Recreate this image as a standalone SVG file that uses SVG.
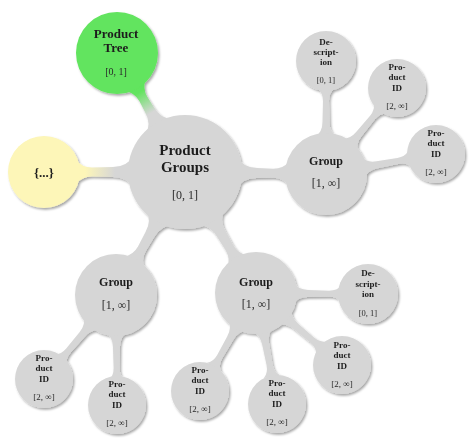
<svg xmlns="http://www.w3.org/2000/svg" width="474" height="444" viewBox="0 0 474 444">
<defs>
<style>
.n{fill:#d6d6d6}
.b{font-family:"Liberation Serif","DejaVu Serif",serif;font-weight:bold;fill:#1e1e1e;text-anchor:middle}
.m{font-family:"Liberation Serif","DejaVu Serif",serif;fill:#2a2a2a;text-anchor:middle}
.c{fill:#d6d6d6}
</style>
<filter id="sh" x="-10%" y="-10%" width="125%" height="125%">
<feDropShadow dx="1.5" dy="1.8" stdDeviation="1.3" flood-color="#000" flood-opacity="0.35"/>
</filter>
<path id="c1" d="M52,-16 Q58,-5 72,-5 L88,-4.5 Q98,-4.5 104,-12 L104,12 Q98,4.5 88,4.5 L72,5 Q58,5 52,16 Z"/>
<path id="c2" d="M37,-11 Q42,-3.5 52,-3.5 L73,-3 Q81,-3 85,-8 L85,8 Q81,3 73,3 L52,3.5 Q42,3.5 37,11 Z"/>
<linearGradient id="gg" gradientUnits="userSpaceOnUse" x1="68" y1="0" x2="92" y2="0">
<stop offset="0" stop-color="#d6d6d6"/><stop offset="1" stop-color="#62e45e"/>
</linearGradient>
<linearGradient id="gy" gradientUnits="userSpaceOnUse" x1="70" y1="0" x2="100" y2="0">
<stop offset="0" stop-color="#d6d6d6"/><stop offset="1" stop-color="#fdf6b8"/>
</linearGradient>
</defs>
<rect width="474" height="444" fill="#fff"/>
<g filter="url(#sh)">
<g id="connectors">
<path transform="translate(185,172) rotate(-119.7)" fill="url(#gg)" d="M52,-16 Q58,-5 72,-5 L84,-4.5 Q94,-4.5 100,-12 L100,12 Q94,4.5 84,4.5 L72,5 Q58,5 52,16 Z"/>
<path transform="translate(185,172) rotate(180)" fill="url(#gy)" d="M52,-16 Q58,-5 72,-5 L93,-4.5 Q103,-4.5 109,-12 L109,12 Q103,4.5 93,4.5 L72,5 Q58,5 52,16 Z"/>
<use href="#c1" class="c" transform="translate(185,172) rotate(0.8)"/>
<use href="#c1" class="c" transform="translate(185,172) rotate(119.3)"/>
<use href="#c1" class="c" transform="translate(185,172) rotate(59.6)"/>
<use href="#c2" class="c" transform="translate(326,174) rotate(-90)"/>
<use href="#c2" class="c" transform="translate(326,174) rotate(-50.5)"/>
<use href="#c2" class="c" transform="translate(326,174) rotate(-10.3)"/>
<use href="#c2" class="c" transform="translate(116,295) rotate(130.6)"/>
<use href="#c2" class="c" transform="translate(116,295) rotate(89.5)"/>
<use href="#c2" class="c" transform="translate(256,293) rotate(0.5)"/>
<use href="#c2" class="c" transform="translate(256,293) rotate(39.9)"/>
<use href="#c2" class="c" transform="translate(256,293) rotate(79.3)"/>
<use href="#c2" class="c" transform="translate(256,293) rotate(119.7)"/>
</g>
<g id="product-groups">
<circle class="n" cx="185" cy="172" r="57"/>
<text class="b" x="185" y="155" font-size="15">Product</text>
<text class="b" x="185" y="172" font-size="15">Groups</text>
<text class="m" x="185" y="199" font-size="12">[0, 1]</text>
</g>
<g id="product-tree">
<circle cx="117" cy="53" r="41" fill="#62e45e"/>
<text class="b" x="116" y="38" font-size="13">Product</text>
<text class="b" x="116" y="52" font-size="13">Tree</text>
<text class="m" x="116" y="75" font-size="10">[0, 1]</text>
</g>
<g id="etc">
<circle cx="44" cy="172" r="36" fill="#fdf6b8"/>
<text class="b" x="44" y="177" font-size="13">{...}</text>
</g>
<g id="group-right">
<circle class="n" cx="326" cy="174" r="41"/>
<text class="b" x="326" y="165" font-size="12">Group</text>
<text class="m" x="326" y="187" font-size="12">[1, ∞]</text>
</g>
<g id="desc-1">
<circle class="n" cx="326" cy="61" r="30"/>
<text class="b" x="326" y="45" font-size="9">De-</text>
<text class="b" x="326" y="55" font-size="9">script-</text>
<text class="b" x="326" y="65" font-size="9">ion</text>
<text class="m" x="326" y="83" font-size="8.5">[0, 1]</text>
</g>
<g id="pid-1">
<circle class="n" cx="397" cy="88" r="29"/>
<text class="b" x="397" y="70" font-size="9">Pro-</text>
<text class="b" x="397" y="80" font-size="9">duct</text>
<text class="b" x="397" y="91" font-size="9">ID</text>
<text class="m" x="397" y="109" font-size="9">[2, ∞]</text>
</g>
<g id="pid-2">
<circle class="n" cx="436" cy="154" r="29"/>
<text class="b" x="436" y="136" font-size="9">Pro-</text>
<text class="b" x="436" y="146" font-size="9">duct</text>
<text class="b" x="436" y="157" font-size="9">ID</text>
<text class="m" x="436" y="175" font-size="9">[2, ∞]</text>
</g>
<g id="group-left">
<circle class="n" cx="116" cy="295" r="41"/>
<text class="b" x="116" y="286" font-size="12">Group</text>
<text class="m" x="116" y="309" font-size="12">[1, ∞]</text>
</g>
<g id="pid-3">
<circle class="n" cx="44" cy="379" r="29"/>
<text class="b" x="44" y="361" font-size="9">Pro-</text>
<text class="b" x="44" y="371" font-size="9">duct</text>
<text class="b" x="44" y="382" font-size="9">ID</text>
<text class="m" x="44" y="400" font-size="9">[2, ∞]</text>
</g>
<g id="pid-4">
<circle class="n" cx="117" cy="405" r="29"/>
<text class="b" x="117" y="387" font-size="9">Pro-</text>
<text class="b" x="117" y="397" font-size="9">duct</text>
<text class="b" x="117" y="408" font-size="9">ID</text>
<text class="m" x="117" y="426" font-size="9">[2, ∞]</text>
</g>
<g id="group-mid">
<circle class="n" cx="256" cy="293" r="41"/>
<text class="b" x="256" y="286" font-size="12">Group</text>
<text class="m" x="256" y="308" font-size="12">[1, ∞]</text>
</g>
<g id="desc-2">
<circle class="n" cx="368" cy="294" r="30"/>
<text class="b" x="368" y="276" font-size="9">De-</text>
<text class="b" x="368" y="287" font-size="9">script-</text>
<text class="b" x="368" y="297" font-size="9">ion</text>
<text class="m" x="368" y="316" font-size="8.5">[0, 1]</text>
</g>
<g id="pid-5">
<circle class="n" cx="342" cy="365" r="29"/>
<text class="b" x="342" y="348" font-size="9">Pro-</text>
<text class="b" x="342" y="358" font-size="9">duct</text>
<text class="b" x="342" y="369" font-size="9">ID</text>
<text class="m" x="342" y="387" font-size="9">[2, ∞]</text>
</g>
<g id="pid-6">
<circle class="n" cx="277" cy="404" r="29"/>
<text class="b" x="277" y="386" font-size="9">Pro-</text>
<text class="b" x="277" y="396" font-size="9">duct</text>
<text class="b" x="277" y="407" font-size="9">ID</text>
<text class="m" x="277" y="425" font-size="9">[2, ∞]</text>
</g>
<g id="pid-7">
<circle class="n" cx="200" cy="391" r="29"/>
<text class="b" x="200" y="373" font-size="9">Pro-</text>
<text class="b" x="200" y="383" font-size="9">duct</text>
<text class="b" x="200" y="394" font-size="9">ID</text>
<text class="m" x="200" y="412" font-size="9">[2, ∞]</text>
</g>
</g>
</svg>
